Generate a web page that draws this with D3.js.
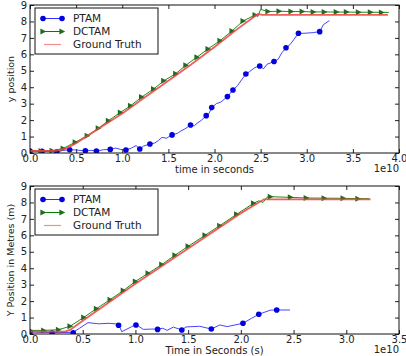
<!DOCTYPE html>
<html>
<head>
<meta charset="utf-8">
<script src="https://cdn.jsdelivr.net/npm/d3@7"></script>
<style>
  body { margin: 0; background: white; }
  svg { display: block; font-family: "DejaVu Sans", sans-serif; }
</style>
</head>
<body>
<div id="chart"></div>
<script>
// Top panel data (time in units of 1e10)
const xTicksTop = [0, 0.5, 1, 1.5, 2, 2.5, 3, 3.5, 4];
const xTicksBottom = [0, 0.5, 1, 1.5, 2, 2.5, 3, 3.5];
const yTicks = [0, 1, 2, 3, 4, 5, 6, 7, 8, 9];
const seriesNames = ["PTAM", "DCTAM", "Ground Truth"];

const ptamTopLine = [[0.0,0.12],[0.13,0.1],[0.25,0.08],[0.29,0.06],[0.35,0.15],[0.43,0.2],[0.5,0.18],[0.6,0.13],[0.66,0.16],[0.72,0.12],[0.8,0.2],[0.87,0.22],[0.93,0.3],[0.98,0.22],[1.04,0.18],[1.1,0.3],[1.15,0.45],[1.19,0.24],[1.23,0.42],[1.3,0.55],[1.35,0.6],[1.39,0.75],[1.43,0.95],[1.48,0.9],[1.54,1.1],[1.6,1.2],[1.63,1.32],[1.68,1.47],[1.74,1.7],[1.78,1.65],[1.81,1.8],[1.86,2.0],[1.91,2.27],[1.94,2.4],[1.97,2.76],[2.02,3.0],[2.07,3.1],[2.14,3.43],[2.2,3.83],[2.25,4.1],[2.3,4.5],[2.34,4.8],[2.38,4.95],[2.44,5.2],[2.49,5.29],[2.53,5.12],[2.57,5.4],[2.645,5.56],[2.69,5.7],[2.73,6.1],[2.775,6.4],[2.82,6.6],[2.86,6.9],[2.91,7.28],[2.97,7.28],[3.07,7.32],[3.14,7.38],[3.18,7.8],[3.245,8.05]];
const ptamTopDots = [[0.0,0.12],[0.13,0.1],[0.29,0.06],[0.43,0.2],[0.6,0.13],[0.72,0.12],[0.87,0.22],[1.04,0.18],[1.19,0.24],[1.3,0.55],[1.54,1.1],[1.74,1.7],[1.91,2.27],[1.97,2.76],[2.14,3.43],[2.2,3.83],[2.34,4.8],[2.49,5.29],[2.645,5.56],[2.775,6.4],[2.91,7.28],[3.14,7.38]];
const dctamTopLine = [[0.0,0.12],[0.12,0.12],[0.24,0.14],[0.36,0.28],[0.49,0.65],[0.62,1.05],[0.74,1.5],[0.85,1.96],[0.98,2.47],[1.09,2.87],[1.21,3.4],[1.34,3.89],[1.45,4.39],[1.58,4.82],[1.69,5.34],[1.81,5.83],[1.93,6.33],[2.06,6.83],[2.19,7.42],[2.31,8.03],[2.44,8.39],[2.47,8.3],[2.5,8.74],[2.55,8.65],[2.58,8.6],[2.7,8.62],[2.83,8.6],[2.95,8.6],[3.07,8.58],[3.19,8.58],[3.32,8.57],[3.43,8.57],[3.56,8.56],[3.69,8.56],[3.81,8.55],[3.89,8.55]];
const dctamTopMarks = [[0.0,0.12],[0.12,0.12],[0.24,0.14],[0.36,0.28],[0.49,0.65],[0.62,1.05],[0.74,1.5],[0.85,1.96],[0.98,2.47],[1.09,2.87],[1.21,3.4],[1.34,3.89],[1.45,4.39],[1.58,4.82],[1.69,5.34],[1.81,5.83],[1.93,6.33],[2.06,6.83],[2.19,7.42],[2.31,8.03],[2.44,8.39],[2.58,8.6],[2.7,8.62],[2.83,8.6],[2.95,8.6],[3.07,8.58],[3.19,8.58],[3.32,8.57],[3.43,8.57],[3.56,8.56],[3.69,8.56],[3.81,8.55]];
const truthTop = [[0,0.13],[0.28,0.13],[0.4,0.3],[0.5,0.6],[0.75,1.5],[1.0,2.4],[1.25,3.4],[1.5,4.4],[1.75,5.4],[2.0,6.45],[2.25,7.55],[2.47,8.45],[2.52,8.4],[3.88,8.4]];

// Bottom panel data
const ptamBottomLine = [[0,0.12],[0.21,0.08],[0.41,0.1],[0.47,0.35],[0.55,0.69],[0.65,0.62],[0.75,0.65],[0.84,0.6],[0.87,0.14],[0.96,0.43],[1.005,0.58],[1.075,0.28],[1.15,0.3],[1.21,0.3],[1.26,0.35],[1.3,0.22],[1.36,0.42],[1.44,0.24],[1.48,0.43],[1.61,0.47],[1.72,0.3],[1.8,0.55],[1.87,0.45],[2.02,0.65],[2.1,0.95],[2.17,1.2],[2.28,1.45],[2.34,1.46],[2.466,1.46]];
const ptamBottomDots = [[0.0,0.1],[0.21,0.06],[0.41,0.08],[0.84,0.53],[1.005,0.55],[1.21,0.28],[1.44,0.24],[1.72,0.3],[2.02,0.65],[2.17,1.2],[2.34,1.46]];
const dctamBottomLine = [[0.0,0.22],[0.13,0.22],[0.27,0.26],[0.38,0.47],[0.51,1.01],[0.63,1.54],[0.76,2.09],[0.885,2.64],[1.0,3.2],[1.12,3.69],[1.25,4.22],[1.375,4.79],[1.5,5.33],[1.66,6.0],[1.8,6.59],[1.96,7.28],[2.12,7.95],[2.17,8.1],[2.21,8.0],[2.25,8.33],[2.28,8.35],[2.47,8.31],[2.62,8.27],[2.79,8.26],[2.97,8.25],[3.11,8.23],[3.22,8.23]];
const dctamBottomMarks = [[0.0,0.22],[0.13,0.22],[0.27,0.26],[0.38,0.47],[0.51,1.01],[0.63,1.54],[0.76,2.09],[0.885,2.64],[1.0,3.2],[1.12,3.69],[1.25,4.22],[1.375,4.79],[1.5,5.33],[1.66,6.0],[1.8,6.59],[1.96,7.28],[2.12,7.95],[2.28,8.35],[2.47,8.31],[2.62,8.27],[2.79,8.26],[2.97,8.25],[3.11,8.23]];
const truthBottom = [[0,0.15],[0.33,0.15],[0.38,0.25],[0.5,0.8],[1.0,3.05],[1.5,5.2],[2.0,7.35],[2.22,8.19],[3.23,8.19]];

const W = 406, H = 356;
const svg = d3.select("#chart").append("svg").attr("width", W).attr("height", H);

const blue = "#0000e0", green = "#1f6e1f", red = "#f04040";

function drawPanel(p) {
    const x = d3.scaleLinear().domain([0, p.xMax]).range([30, 399]);
    const y = d3.scaleLinear().domain([0, 9]).range([p.bottom, p.top]);
    const g = svg.append("g");

    // clip for data lines
    const clipId = "clip" + p.top;
    g.append("clipPath").attr("id", clipId).append("rect")
        .attr("x", 30).attr("y", p.top).attr("width", 369).attr("height", p.bottom - p.top);

    // inward ticks on all four sides
    g.append("g").attr("transform", `translate(0,${p.bottom})`)
        .call(d3.axisBottom(x).tickValues(p.xTicks).tickFormat(d3.format(".1f")).tickSizeInner(-4).tickSizeOuter(0).tickPadding(1.5))
        .call(a => a.select(".domain").remove());
    g.append("g").attr("transform", `translate(0,${p.top})`)
        .call(d3.axisTop(x).tickValues(p.xTicks).tickFormat("").tickSizeInner(-4).tickSizeOuter(0))
        .call(a => a.select(".domain").remove());
    g.append("g").attr("transform", "translate(30,0)")
        .call(d3.axisLeft(y).tickValues(yTicks).tickFormat(d3.format("d")).tickSizeInner(-4).tickSizeOuter(0).tickPadding(3))
        .call(a => a.select(".domain").remove());
    g.append("g").attr("transform", "translate(399,0)")
        .call(d3.axisRight(y).tickValues(yTicks).tickFormat("").tickSizeInner(-4).tickSizeOuter(0))
        .call(a => a.select(".domain").remove());
    g.selectAll(".tick text").attr("font-size", 10).attr("font-family", "DejaVu Sans").attr("fill", "#222");
    g.selectAll(".tick line").attr("stroke", "#222");

    const line = d3.line().x(d => x(d[0])).y(d => y(d[1]));
    const data = g.append("g").attr("clip-path", `url(#${clipId})`);

    // PTAM
    data.append("path").datum(p.ptamLine).attr("d", line)
        .attr("fill", "none").attr("stroke", "#3030ff").attr("stroke-width", 0.9);
    data.selectAll(".pd").data(p.ptamDots).enter().append("circle")
        .attr("cx", d => x(d[0])).attr("cy", d => y(d[1])).attr("r", 2.8).attr("fill", blue);

    // DCTAM
    data.append("path").datum(p.dctamLine).attr("d", line)
        .attr("fill", "none").attr("stroke", "#008000").attr("stroke-width", 0.9);
    data.selectAll(".dm").data(p.dctamMarks).enter().append("path")
        .attr("d", "M-2.6,-3 L3.2,0 L-2.6,3 Z")
        .attr("transform", d => `translate(${x(d[0])},${y(d[1])})`)
        .attr("fill", green);

    // Ground truth
    data.append("path").datum(p.truth).attr("d", line)
        .attr("fill", "none").attr("stroke", red).attr("stroke-width", 1.8).attr("stroke-opacity", 0.85);

    // frame
    g.append("rect").attr("x", 30).attr("y", p.top).attr("width", 369).attr("height", p.bottom - p.top)
        .attr("fill", "none").attr("stroke", "#111").attr("stroke-width", 1);

    // axis labels
    g.append("text").attr("x", 214.5).attr("y", p.bottom + 19.5).attr("text-anchor", "middle")
        .attr("font-size", 10).attr("fill", "#222").text(p.xLabel);
    g.append("text").attr("x", 399).attr("y", p.bottom + 19).attr("text-anchor", "end")
        .attr("font-size", 10).attr("fill", "#222").text("1e10");
    g.append("text").attr("transform", `translate(13.5,${(p.top + p.bottom) / 2}) rotate(-90)`)
        .attr("text-anchor", "middle").attr("font-size", 9.5).attr("fill", "#222").text(p.yLabel);

    // legend
    const lg = g.append("g").attr("transform", `translate(35,${p.top + 3})`);
    lg.append("rect").attr("width", 123).attr("height", 46).attr("fill", "white").attr("stroke", "#111");
    seriesNames.forEach((name, i) => {
        const ly = 10.5 + i * 13;
        if (i === 0) {
            lg.append("line").attr("x1", 8).attr("x2", 27).attr("y1", ly).attr("y2", ly).attr("stroke", "#3030ff");
            [8, 27].forEach(cx => lg.append("circle").attr("cx", cx).attr("cy", ly).attr("r", 2.8).attr("fill", blue));
        } else if (i === 1) {
            lg.append("line").attr("x1", 8).attr("x2", 27).attr("y1", ly).attr("y2", ly).attr("stroke", "#008000");
            [8, 27].forEach(cx => lg.append("path").attr("d", "M-2.6,-3 L3.2,0 L-2.6,3 Z")
                .attr("transform", `translate(${cx},${ly})`).attr("fill", green));
        } else {
            lg.append("line").attr("x1", 9).attr("x2", 26).attr("y1", ly).attr("y2", ly)
                .attr("stroke", red).attr("stroke-opacity", 0.6).attr("stroke-width", 1.2);
        }
        lg.append("text").attr("x", 38).attr("y", ly).attr("dy", "0.36em")
            .attr("font-size", 10.5).attr("fill", "#222").text(name);
    });
}

drawPanel({ top: 5, bottom: 153, xMax: 4, xTicks: xTicksTop,
    xLabel: "time in seconds", yLabel: "y position",
    ptamLine: ptamTopLine, ptamDots: ptamTopDots, dctamLine: dctamTopLine, dctamMarks: dctamTopMarks, truth: truthTop });
drawPanel({ top: 186, bottom: 334, xMax: 3.5, xTicks: xTicksBottom,
    xLabel: "Time in Seconds (s)", yLabel: "Y Position in Metres (m)",
    ptamLine: ptamBottomLine, ptamDots: ptamBottomDots, dctamLine: dctamBottomLine, dctamMarks: dctamBottomMarks, truth: truthBottom });
</script>
</body>
</html>
